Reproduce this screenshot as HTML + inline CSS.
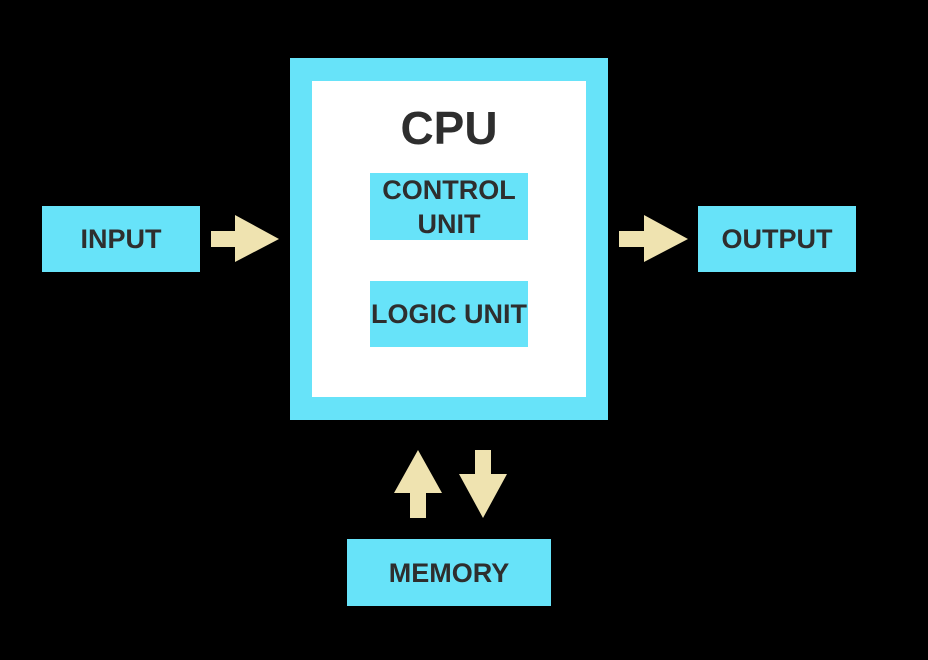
<!DOCTYPE html>
<html><head><style>
body{margin:0;background:#000;width:928px;height:660px;overflow:hidden;position:relative;font-family:"Liberation Sans Narrow","Liberation Sans",sans-serif;font-weight:bold;color:#2e2e2e}
.b{position:absolute;background:#67e3f9;display:flex;align-items:center;justify-content:center;text-align:center;font-size:27px;line-height:34px}
</style></head><body>
<div class="b" style="left:42px;top:206px;width:158px;height:66px">INPUT</div>
<div class="b" style="left:698px;top:206px;width:158px;height:66px">OUTPUT</div>
<div class="b" style="left:347px;top:539px;width:204px;height:67px">MEMORY</div>
<div style="position:absolute;left:290px;top:58px;width:318px;height:362px;background:#67e3f9"></div>
<div style="position:absolute;left:312px;top:81px;width:274px;height:316px;background:#fff"></div>
<div style="position:absolute;left:312px;top:98px;width:274px;text-align:center;font-size:46px;line-height:60px">CPU</div>
<div class="b" style="left:370px;top:173px;width:158px;height:67px">CONTROL<br>UNIT</div>
<div class="b" style="left:370px;top:281px;width:158px;height:66px">LOGIC UNIT</div>
<svg width="928" height="660" style="position:absolute;left:0;top:0" fill="#efe3b0">
<polygon points="211,231 235,231 235,215 279,239 235,262 235,247 211,247"/>
<polygon points="619,231 644,231 644,215 688,239 644,262 644,247 619,247"/>
<polygon points="418,450 442,493 426,493 426,518 410,518 410,493 394,493"/>
<polygon points="475,450 491,450 491,474 507,474 483,518 459,474 475,474"/>
</svg>
</body></html>
